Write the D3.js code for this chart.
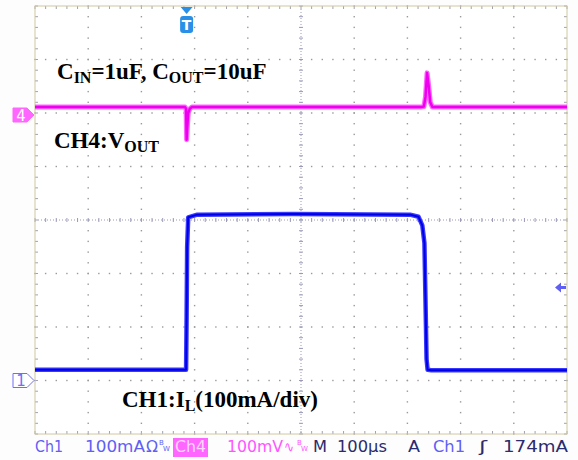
<!DOCTYPE html>
<html>
<head>
<meta charset="utf-8">
<script src="https://cdn.jsdelivr.net/npm/d3@7"></script>
<style>
  body { margin: 0; background: #fdfdfd; }
  svg { display: block; }
</style>
</head>
<body>
<div id="chart"></div>
<script>
// scope settings
const timePerDiv = 100;      // µs/div
const ch1PerDiv = 100;       // mA/div
const ch4PerDiv = 100;       // mV/div
const ch1Offset = -3;        // divisions (ground marker 1)
const ch4Offset = 2;         // divisions (ground marker 4)
const triggerLevel = 174;    // mA
const timeRange = [-285, 715];

// CH1 inductor current (µs, mA)
const ch1Time = [-285, -3, -1, 0, 1, 3, 20, 200, 420, 436, 443, 447, 449, 451, 453, 460, 600, 715];
const ch1Current = [20, 20, 20, 120, 250, 305, 310, 311, 310, 306, 290, 257, 150, 40, 20, 19, 19, 19];

// CH4 output voltage (µs, mV)
const ch4Time = [-285, -3, -1, 0, 1, 3, 6, 10, 200, 440, 446, 449, 452, 455, 458, 462, 600, 715];
const ch4Volt = [11, 11, 8, -50, -30, 0, 8, 11, 11, 11, 12, 30, 75, 50, 20, 11, 11, 11];

// status bar
const statusItems = [
  {text: 'Ch1', x: 35, w: 28, color: '#5f5ff5'},
  {text: '100mA', x: 85, w: 60, color: '#5f5ff5'},
  {text: 'Ω', x: 146, w: 12, color: '#5f5ff5'},
  {text: '100mV', x: 227, w: 56, color: '#ff55ff'},
  {text: '∿', x: 284, w: 10, color: '#ff55ff'},
  {text: 'M', x: 313, w: 14, color: '#2b2b6e'},
  {text: '100µs', x: 337, w: 50, color: '#2b2b6e'},
  {text: 'A', x: 408, w: 12, color: '#2b2b6e'},
  {text: 'Ch1', x: 433, w: 32, color: '#5f5ff5'},
  {text: 'ʃ', x: 479, w: 8, color: '#2b2b6e'},
  {text: '174mA', x: 503, w: 65, color: '#2b2b6e'}
];

const W = 578, H = 460;
const pLeft = 35, pRight = 567, pTop = 6, pBottom = 434;
const nx = 10, ny = 8;

const svg = d3.select('#chart').append('svg')
  .attr('width', W).attr('height', H);

svg.append('rect').attr('width', W).attr('height', H).attr('fill', '#fdfdfd');

const x = d3.scaleLinear().domain(timeRange).range([pLeft, pRight]);
const xDiv = d3.scaleLinear().domain([0, nx]).range([pLeft, pRight]);
const yDiv = d3.scaleLinear().domain([-ny / 2, ny / 2]).range([pBottom, pTop]);
const yCh1 = d3.scaleLinear()
  .domain([(-ny / 2 - ch1Offset) * ch1PerDiv, (ny / 2 - ch1Offset) * ch1PerDiv])
  .range([pBottom, pTop]);
const yCh4 = d3.scaleLinear()
  .domain([(-ny / 2 - ch4Offset) * ch4PerDiv, (ny / 2 - ch4Offset) * ch4PerDiv])
  .range([pBottom, pTop]);

svg.append('rect')
  .attr('x', pLeft).attr('y', pTop)
  .attr('width', pRight - pLeft).attr('height', pBottom - pTop)
  .attr('fill', '#ffffff');

// grid dots every 1/5 division
const grid = svg.append('g').attr('fill', '#999999');
const subX = d3.range(0, nx * 5 + 1).map(i => i / 5);
const subY = d3.range(-ny * 5 / 2, ny * 5 / 2 + 1).map(i => i / 5);
for (let i = 1; i < nx; i++) {
  if (i === nx / 2) continue;
  subY.forEach(v => grid.append('rect')
    .attr('x', xDiv(i) - 0.7).attr('y', yDiv(v) - 0.7).attr('width', 1.4).attr('height', 1.4));
}
for (let j = -ny / 2 + 1; j < ny / 2; j++) {
  if (j === 0) continue;
  subX.forEach(v => grid.append('rect')
    .attr('x', xDiv(v) - 0.7).attr('y', yDiv(j) - 0.7).attr('width', 1.4).attr('height', 1.4));
}

// center crosshair with ticks
const cross = svg.append('g').attr('stroke', '#9a9ab8').attr('stroke-width', 1);
cross.append('line')
  .attr('x1', pLeft).attr('x2', pRight).attr('y1', yDiv(0)).attr('y2', yDiv(0))
  .attr('stroke-dasharray', '1,2');
cross.append('line')
  .attr('x1', xDiv(nx / 2)).attr('x2', xDiv(nx / 2)).attr('y1', pTop).attr('y2', pBottom)
  .attr('stroke-dasharray', '1,2');
subX.forEach(v => cross.append('line')
  .attr('x1', xDiv(v)).attr('x2', xDiv(v))
  .attr('y1', yDiv(0) - 2).attr('y2', yDiv(0) + 2));
subY.forEach(v => cross.append('line')
  .attr('x1', xDiv(nx / 2) - 2).attr('x2', xDiv(nx / 2) + 2)
  .attr('y1', yDiv(v)).attr('y2', yDiv(v)));

// border ticks
const edge = svg.append('g').attr('stroke', '#a0a0b0').attr('stroke-width', 1);
subX.forEach(v => {
  edge.append('line').attr('x1', xDiv(v)).attr('x2', xDiv(v)).attr('y1', pTop).attr('y2', pTop + 3);
  edge.append('line').attr('x1', xDiv(v)).attr('x2', xDiv(v)).attr('y1', pBottom).attr('y2', pBottom - 3);
});
subY.forEach(v => {
  edge.append('line').attr('x1', pLeft).attr('x2', pLeft + 3).attr('y1', yDiv(v)).attr('y2', yDiv(v));
  edge.append('line').attr('x1', pRight).attr('x2', pRight - 3).attr('y1', yDiv(v)).attr('y2', yDiv(v));
});
svg.append('rect')
  .attr('x', pLeft).attr('y', pTop)
  .attr('width', pRight - pLeft).attr('height', pBottom - pTop)
  .attr('fill', 'none').attr('stroke', '#cfc8a0').attr('stroke-width', 1);

// traces
const ch4Data = ch4Time.map((t, i) => [t, ch4Volt[i]]);
const ch1Data = ch1Time.map((t, i) => [t, ch1Current[i]]);

const line4 = d3.line().x(d => x(d[0])).y(d => yCh4(d[1]));
const line1 = d3.line().x(d => x(d[0])).y(d => yCh1(d[1]));

svg.append('path').datum(ch4Data).attr('d', line4)
  .attr('fill', 'none').attr('stroke', '#ff66ff').attr('stroke-width', 5).attr('stroke-linejoin', 'round');
svg.append('path').datum(ch4Data).attr('d', line4)
  .attr('fill', 'none').attr('stroke', '#ee00ee').attr('stroke-width', 2.5).attr('stroke-linejoin', 'round');

svg.append('path').datum(ch1Data).attr('d', line1)
  .attr('fill', 'none').attr('stroke', '#3a3aff').attr('stroke-width', 4.5).attr('stroke-linejoin', 'round');
svg.append('path').datum(ch1Data).attr('d', line1)
  .attr('fill', 'none').attr('stroke', '#0000e8').attr('stroke-width', 2).attr('stroke-linejoin', 'round');

// channel ground markers
function marker(yPos, label, filled, color) {
  const g = svg.append('g');
  g.append('path')
    .attr('d', `M13,${yPos - 7} H27 L34,${yPos} L27,${yPos + 7} H13 Z`)
    .attr('fill', filled ? color : '#ffffff')
    .attr('stroke', color).attr('stroke-width', 1);
  g.append('text').attr('x', 21).attr('y', yPos + 5.5)
    .attr('text-anchor', 'middle')
    .style('font-family', 'DejaVu Sans').style('font-size', '15px')
    .attr('fill', filled ? '#ffffff' : color)
    .text(label);
}
marker(yCh4(0) + 2, '4', true, '#ff66ff');
marker(yCh1(0), '1', false, '#6f6ff5');

// trigger level arrow (right)
const ty = yCh1(triggerLevel);
svg.append('path')
  .attr('d', `M555,${ty} L561,${ty - 5} L561,${ty - 1.5} L566,${ty - 1.5} L566,${ty + 1.5} L561,${ty + 1.5} L561,${ty + 5} Z`)
  .attr('fill', '#5f5ff5');

// trigger position marker (top)
const tx = x(0);
const tm = svg.append('g').attr('fill', '#2a8fe6');
tm.append('path').attr('d', `M${tx - 6},7 L${tx + 6},7 L${tx},14 Z`);
tm.append('rect').attr('x', tx - 6.5).attr('y', 16).attr('width', 13).attr('height', 17).attr('rx', 3);
tm.append('text').attr('x', tx).attr('y', 30).attr('text-anchor', 'middle')
  .attr('fill', '#ffffff').style('font-family', 'DejaVu Sans').style('font-weight', 'bold')
  .style('font-size', '14px').text('T');

// annotations
const serif = "'Liberation Serif', 'Times New Roman', serif";
function label(xPos, yPos, parts) {
  const t = svg.append('text').attr('x', xPos).attr('y', yPos)
    .style('font-family', serif).style('font-weight', 'bold')
    .style('font-size', '23px').attr('fill', '#000');
  parts.forEach(p => {
    t.append('tspan')
      .attr('dy', p.sub ? 4 : (p.after ? -4 : 0))
      .style('font-size', p.sub ? '16px' : '23px')
      .text(p.text);
  });
}
label(57, 79, [
  {text: 'C'}, {text: 'IN', sub: true}, {text: '=1uF, C', after: true},
  {text: 'OUT', sub: true}, {text: '=10uF', after: true}
]);
label(54, 148, [{text: 'CH4:V'}, {text: 'OUT', sub: true}]);
label(122, 407, [{text: 'CH1:I'}, {text: 'L', sub: true}, {text: '(100mA/div)', after: true}]);

// status bar
svg.append('rect').attr('x', 173).attr('y', 438).attr('width', 35).attr('height', 19).attr('fill', '#ff66ff');
svg.append('text').attr('x', 175).attr('y', 452)
  .attr('textLength', 31).attr('lengthAdjust', 'spacingAndGlyphs')
  .style('font-family', 'DejaVu Sans').style('font-size', '15px')
  .attr('fill', '#ffd6ff').text('Ch4');

svg.selectAll('text.status')
  .data(statusItems)
  .enter()
  .append('text')
  .attr('class', 'status')
  .attr('x', d => d.x)
  .attr('y', 452)
  .attr('textLength', d => d.w)
  .attr('lengthAdjust', 'spacingAndGlyphs')
  .attr('fill', d => d.color)
  .style('font-family', 'DejaVu Sans')
  .style('font-size', '15px')
  .text(d => d.text);

// small BW marks
[{x: 159, c: '#5f5ff5'}, {x: 297, c: '#ff55ff'}].forEach(b => {
  svg.append('text').attr('x', b.x).attr('y', 445)
    .style('font-family', 'DejaVu Sans').style('font-size', '7px').attr('fill', b.c).text('B');
  svg.append('text').attr('x', b.x + 4).attr('y', 451)
    .style('font-family', 'DejaVu Sans').style('font-size', '7px').attr('fill', b.c).text('W');
});
</script>
</body>
</html>
